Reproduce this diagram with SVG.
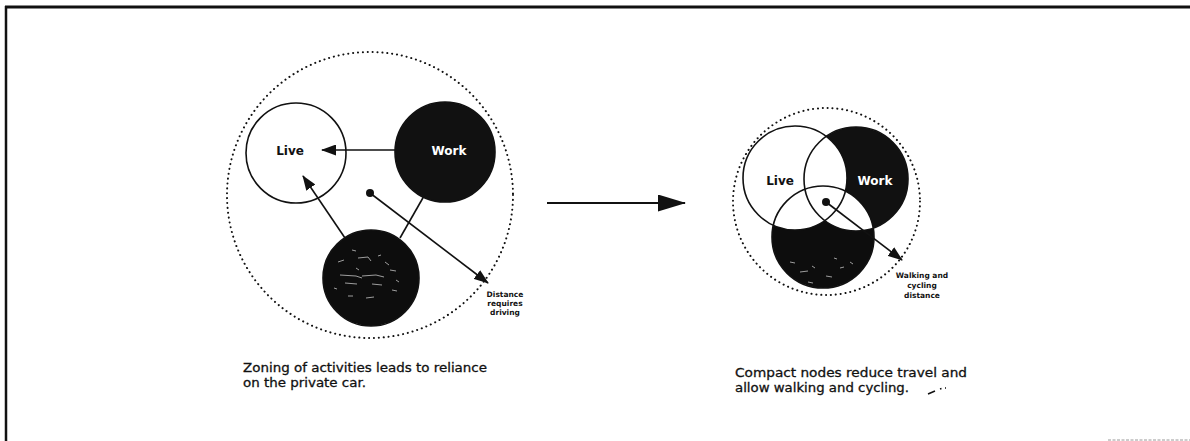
<svg xmlns="http://www.w3.org/2000/svg" width="1190" height="441" viewBox="0 0 1190 441">
  <style>
    .ring { fill: none; stroke: #111; stroke-width: 1.6; }
    .zone { fill: none; stroke: #111; stroke-width: 2; stroke-dasharray: 0.1 4.8; stroke-linecap: round; }
    .conn { fill: none; stroke: #111; stroke-width: 1.6; }
    .lbl { font-family: "DejaVu Sans", "Liberation Sans", sans-serif; font-weight: bold; font-size: 12px; text-anchor: middle; }
    .small { font-family: "DejaVu Sans", "Liberation Sans", sans-serif; font-weight: bold; font-size: 7.5px; text-anchor: middle; fill: #111; }
    .cap { font-family: "DejaVu Sans", "Liberation Sans", sans-serif; font-size: 12.5px; fill: #111; stroke: #111; stroke-width: 0.3; }
    .speck { fill: none; stroke: #fff; stroke-width: 0.8; opacity: 0.75; }
  </style>
  <defs>
    <marker id="ah" markerUnits="userSpaceOnUse" markerWidth="15" markerHeight="11" refX="14" refY="5.5" orient="auto">
      <path d="M0,0 L15,5.5 L0,11 z" fill="#111"/>
    </marker>
    <marker id="ahBig" markerUnits="userSpaceOnUse" markerWidth="28" markerHeight="17" refX="27" refY="8.5" orient="auto">
      <path d="M0,0 L28,8.5 L0,17 z" fill="#111"/>
    </marker>
    <clipPath id="clipWorkR">
      <circle cx="856" cy="179" r="52"/>
    </clipPath>
  </defs>

  <rect width="1190" height="441" fill="#fff"/>

  <!-- frame -->
  <g id="frame">
    <path d="M5,7 H1190" stroke="#111" stroke-width="3"/>
    <path d="M6,6 V441" stroke="#111" stroke-width="2.5"/>
    <path d="M1108,440 H1190" stroke="#999" stroke-width="1" stroke-dasharray="3 1.5"/>
  </g>

  <!-- left diagram -->
  <g id="zone-left">
    <circle class="zone" cx="370" cy="195" r="143"/>
  </g>
  <g id="node-live-left">
    <circle class="ring" cx="296" cy="153" r="50" fill="#fff"/>
    <text class="lbl" x="290" y="155" fill="#111">Live</text>
  </g>
  <g id="node-work-left">
    <circle cx="445" cy="152" r="50" fill="#111" stroke="#111" stroke-width="1.6"/>
    <text class="lbl" x="449" y="155" fill="#fff">Work</text>
  </g>
  <g id="node-third-left">
    <circle cx="371" cy="278" r="48" fill="#0d0d0d" stroke="#111" stroke-width="1.6"/>
    <path class="speck" d="M338,262 l6,-2 M352,250 l4,1 M358,258 l10,-1 l3,4 M340,275 l16,1 l6,2 M345,283 l12,1 M362,276 l14,-1 l8,2 M372,284 l10,1 M390,270 l6,1 M385,262 l4,3 M348,296 l5,0 M366,298 l8,-1 M392,290 l5,1 M356,268 l3,2 M378,256 l3,-1 M334,288 l3,1 M396,280 l3,2"/>
  </g>
  <g id="center-left">
    <circle cx="370" cy="193" r="4" fill="#111"/>
  </g>

  <!-- right diagram -->
  <g id="zone-right">
    <circle class="zone" cx="826.5" cy="201.5" r="93.5"/>
  </g>
  <g id="nodes-right">
    <g id="node-work-right">
      <circle cx="856" cy="179" r="52" fill="#111"/>
    </g>
    <g id="node-third-right">
      <circle cx="823" cy="237" r="51" fill="#0d0d0d"/>
      <circle cx="823" cy="237" r="51" fill="#fff" clip-path="url(#clipWorkR)"/>
    </g>
    <g id="node-live-right">
      <circle cx="795" cy="178" r="52" fill="#fff"/>
    </g>
    <path class="speck" d="M790,262 l5,1 M800,272 l8,-1 M812,266 l3,2 M826,276 l6,1 M840,268 l4,-1 M808,282 l5,1 M834,258 l3,1 M850,262 l3,2 M784,276 l3,1 M820,290 l4,0"/>
    <circle class="ring" cx="856" cy="179" r="52"/>
    <circle class="ring" cx="823" cy="237" r="51"/>
    <circle class="ring" cx="795" cy="178" r="52"/>
    <text class="lbl" x="780" y="185" fill="#111">Live</text>
    <text class="lbl" x="875" y="185" fill="#fff">Work</text>
    <circle cx="826" cy="202" r="4" fill="#111"/>
  </g>

  <!-- connectors -->
  <g id="connectors">
    <path class="conn" d="M395,150 L322,150" marker-end="url(#ah)"/>
    <path class="conn" d="M345,238 L303,176" marker-end="url(#ah)"/>
    <path class="conn" d="M424,196 L400,238"/>
    <path class="conn" d="M370,193 L488,283" marker-end="url(#ah)"/>
    <path class="conn" d="M826,202 L902,260" marker-end="url(#ah)"/>
    <path fill="none" stroke="#111" stroke-width="2.2" d="M547,203 L685,203" marker-end="url(#ahBig)"/>
  </g>

  <!-- labels -->
  <g id="label-distance">
    <text class="small" x="505" y="297">Distance</text>
    <text class="small" x="505" y="306">requires</text>
    <text class="small" x="505" y="315">driving</text>
  </g>
  <g id="label-walking">
    <text class="small" x="922" y="278">Walking and</text>
    <text class="small" x="922" y="288">cycling</text>
    <text class="small" x="922" y="298">distance</text>
  </g>
  <g id="caption-left">
    <text class="cap" x="243" y="372" textLength="244" lengthAdjust="spacingAndGlyphs">Zoning of activities leads to reliance</text>
    <text class="cap" x="243" y="387" textLength="123" lengthAdjust="spacingAndGlyphs">on the private car.</text>
  </g>
  <g id="caption-right">
    <text class="cap" x="735" y="377" textLength="232" lengthAdjust="spacingAndGlyphs">Compact nodes reduce travel and</text>
    <text class="cap" x="735" y="392" textLength="174" lengthAdjust="spacingAndGlyphs">allow walking and cycling.</text>
  </g>
  <path d="M928,394 l7,-3 M940,389 l1.5,-0.5 M945,388 l1,0" stroke="#111" stroke-width="1.5" fill="none"/>
</svg>
